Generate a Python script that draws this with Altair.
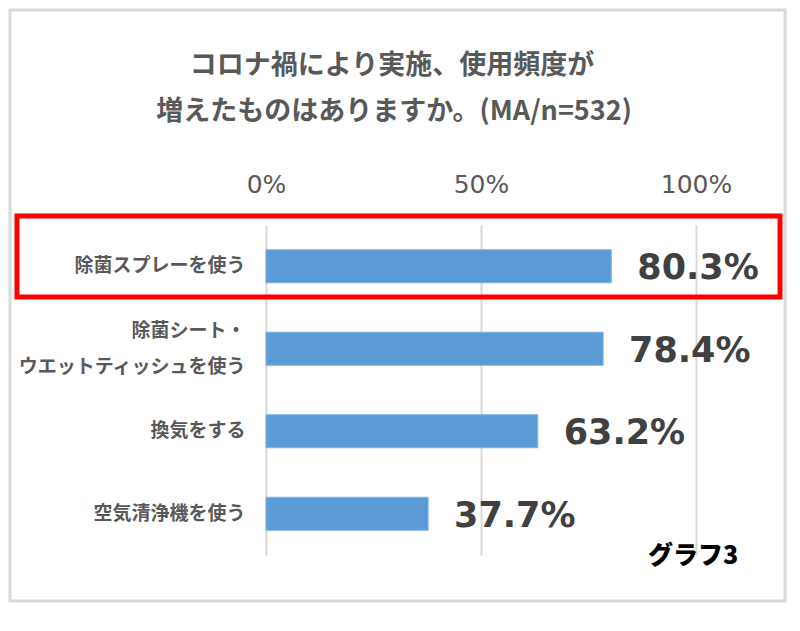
import altair as alt
import pandas as pd

categories = ["除菌スプレーを使う", "除菌シート・\nウエットティッシュを使う", "換気をする", "空気清浄機を使う"]
values = [80.3, 78.4, 63.2, 37.7]
tick_values = [0, 50, 100]
title_lines = ["コロナ禍により実施、使用頻度が", "増えたものはありますか。(MA/n=532)"]
note_text = "グラフ3"

df = pd.DataFrame({
    "cat": categories,
    "val": values,
    "label": [f"{v:.1f}%" for v in values],
})

JP = "Noto Sans CJK JP"

y_enc = alt.Y(
    "cat:N",
    sort=categories,
    title=None,
    scale=alt.Scale(paddingInner=0.6, paddingOuter=0.3),
    axis=alt.Axis(
        labelExpr="split(datum.label, '\\n')",
        labelFont=JP,
        labelFontSize=19,
        labelFontWeight="bold",
        labelColor="#595959",
        labelLineHeight=36,
        labelLimit=400,
        labelPadding=21,
        labelOffset=alt.ExprRef("indexof(datum.label, '\\n') >= 0 ? -18 : 0"),
        ticks=False,
        domain=False,
        grid=False,
    ),
)

x_enc = alt.X(
    "val:Q",
    title=None,
    scale=alt.Scale(domain=[0, 100], nice=False),
    axis=alt.Axis(
        orient="top",
        values=tick_values,
        labelExpr="datum.value + '%'",
        labelFont="DejaVu Sans",
        labelFontSize=25,
        labelColor="#595959",
        labelFlush=False,
        labelPadding=28,
        ticks=False,
        tickSize=0,
        domain=False,
        grid=True,
        gridColor="#d9d9d9",
        gridWidth=2,
    ),
)

bars = alt.Chart(df).mark_bar(color="#5b9bd5", stroke="#7fb2e0", strokeWidth=1).encode(
    x=x_enc, y=y_enc
)

vals = alt.Chart(df).mark_text(
    align="left", baseline="middle", dx=26, dy=2,
    font="DejaVu Sans", fontSize=35, fontWeight="bold", color="#404040",
).encode(
    x=alt.X("val:Q"), y=alt.Y("cat:N", sort=categories), text="label:N"
)

one = alt.Data(values=[{"a": 1}])

frame = alt.Chart(one).mark_rect(fill=None, stroke="#d9d9d9", strokeWidth=3).encode(
    x=alt.value(-256), x2=alt.value(519), y=alt.value(-215), y2=alt.value(376)
)

redbox = alt.Chart(one).mark_rect(fill=None, stroke="#ff0000", strokeWidth=5).encode(
    x=alt.value(-249), x2=alt.value(514), y=alt.value(-9), y2=alt.value(72)
)

title1 = alt.Chart(one).mark_text(
    font=JP, fontSize=27, fontWeight="bold", color="#595959", align="center", baseline="middle"
).encode(x=alt.value(126), y=alt.value(-159), text=alt.value(title_lines[0]))

title2 = alt.Chart(one).mark_text(
    font=JP, fontSize=27, fontWeight="bold", color="#595959", align="center", baseline="middle"
).encode(x=alt.value(128), y=alt.value(-113), text=alt.value(title_lines[1]))

note = alt.Chart(one).mark_text(
    font=JP, fontSize=25, fontWeight=900, color="#000000", align="center", baseline="middle"
).encode(x=alt.value(427), y=alt.value(331), text=alt.value(note_text))

chart = alt.layer(bars, vals, frame, redbox, title1, title2, note).properties(
    width=430,
    height=330,
    autosize=alt.AutoSizeParams(type="none"),
    padding={"left": 258, "top": 217, "right": 96, "bottom": 60},
    background="white",
).configure_view(stroke=None)

chart.save("out.html", embed_options={"renderer": "svg", "actions": False})
